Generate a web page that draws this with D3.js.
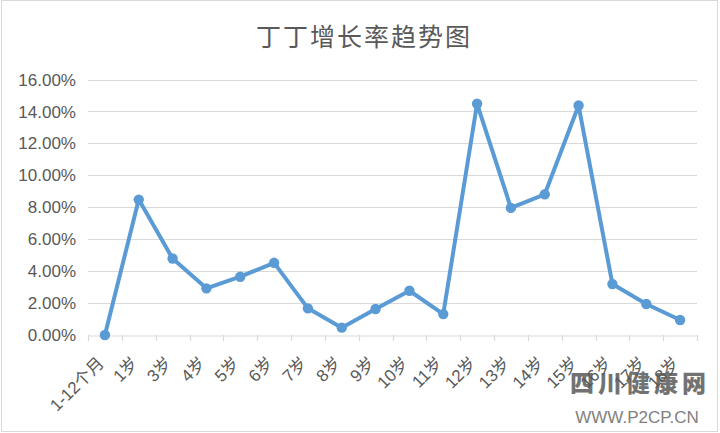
<!DOCTYPE html>
<html><head><meta charset="utf-8">
<script src="https://cdn.jsdelivr.net/npm/d3@7"></script>
<style>body{margin:0;background:#fff}svg{display:block}</style>
</head><body>
<svg id="c" width="720" height="433"></svg>
<script>
const title = "丁丁增长率趋势图";
const categories = ["1-12个月","1岁","3岁","4岁","5岁","6岁","7岁","8岁","9岁","10岁","11岁","12岁","13岁","14岁","15岁","16岁","17岁","18岁"];
const growthRate = [0.0, 8.48, 4.79, 2.92, 3.65, 4.52, 1.67, 0.46, 1.63, 2.77, 1.31, 14.48, 7.96, 8.81, 14.37, 3.19, 1.94, 0.94];
const yTicks = [0, 2, 4, 6, 8, 10, 12, 14, 16];

const svg = d3.select("#c");
const W = 720, H = 433;
const m = {left: 88, right: 23, top: 79.5, bottom: 98};

svg.append("rect").attr("x",1.5).attr("y",0.5).attr("width",716).attr("height",431)
  .attr("fill","#fff").attr("stroke","#d9d9d9");

const x = d3.scaleBand().domain(categories).range([m.left, W - m.right]).padding(0);
const y = d3.scaleLinear().domain([0, 16]).range([H - m.bottom, m.top]);

// gridlines
svg.append("g").selectAll("line").data(yTicks.filter(d => d > 0)).join("line")
  .attr("x1", m.left).attr("x2", W - m.right)
  .attr("y1", d => Math.round(y(d)) + 0.5).attr("y2", d => Math.round(y(d)) + 0.5)
  .attr("stroke", "#d9d9d9").attr("stroke-width", 1.2);

// y labels
svg.append("g").selectAll("text").data(yTicks).join("text")
  .attr("x", 76).attr("y", d => y(d)).attr("dy", "0.36em")
  .attr("text-anchor", "end")
  .attr("font-family", "Liberation Sans, Arial, sans-serif").attr("font-size", 17)
  .attr("fill", "#595959")
  .text(d => d.toFixed(2) + "%");

// x axis
const xAxis = d3.axisBottom(x).tickSize(0).tickFormat("");
const ax = svg.append("g").attr("transform", `translate(0,${Math.round(y(0)) + 0.5})`).call(xAxis);
ax.select(".domain").attr("stroke", "#d9d9d9").attr("stroke-width", 1.2);
const bounds = categories.map(c => x(c)).concat([x(categories[categories.length-1]) + x.bandwidth()]);
svg.append("g").selectAll("line").data(bounds).join("line")
  .attr("x1", d => Math.round(d) + 0.5).attr("x2", d => Math.round(d) + 0.5)
  .attr("y1", Math.round(y(0))).attr("y2", Math.round(y(0)) + 6)
  .attr("stroke", "#d9d9d9").attr("stroke-width", 1.2);

// x labels rotated
svg.append("g").selectAll("text").data(categories).join("text")
  .attr("transform", d => `translate(${x(d) + x.bandwidth()/2 - 4},${y(0) + 25}) rotate(-45)`)
  .attr("dy", "0.35em").attr("text-anchor", "end")
  .attr("font-family", "Liberation Sans, Arial, 'Noto Sans CJK SC', sans-serif").attr("font-size", 17)
  .attr("fill", "#595959")
  .text(d => d);

// line
const cx = (d, i) => x(categories[i]) + x.bandwidth()/2;
const line = d3.line().x((d, i) => cx(d, i)).y(d => y(d));
svg.append("path").datum(growthRate).attr("d", line)
  .attr("fill", "none").attr("stroke", "#5b9bd5").attr("stroke-width", 4)
  .attr("stroke-linejoin", "round");
svg.append("g").selectAll("circle").data(growthRate).join("circle")
  .attr("cx", (d, i) => cx(d, i)).attr("cy", d => y(d)).attr("r", 5.2)
  .attr("fill", "#5b9bd5");

// title
svg.append("text").attr("x", 364).attr("y", 37).attr("dy", "0.35em")
  .attr("text-anchor", "middle")
  .attr("font-family", "'Noto Sans CJK SC', sans-serif").attr("font-size", 25)
  .attr("letter-spacing", 2)
  .attr("fill", "#595959").text(title);

// watermark
svg.append("text").attr("x", 640).attr("y", 392).attr("text-anchor", "middle")
  .attr("font-family", "'Noto Sans CJK SC', sans-serif").attr("font-size", 24).attr("font-weight", 900)
  .attr("letter-spacing", 4).attr("fill", "#5a5a5a").attr("opacity", 0.85).text("四川健康网");
svg.append("text").attr("x", 637).attr("y", 423).attr("text-anchor", "middle")
  .attr("font-family", "Liberation Sans, Arial, sans-serif").attr("font-size", 17)
  .attr("fill", "#6a6a6a").attr("opacity", 0.85).text("WWW.P2CP.CN");
</script>
</body></html>
